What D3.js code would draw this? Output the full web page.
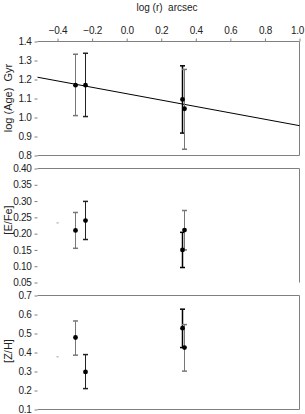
<!DOCTYPE html>
<html>
<head>
<meta charset="utf-8">
<script src="https://cdn.jsdelivr.net/npm/d3@7"></script>
<style>
   body { margin: 0; background: #fff; }
   svg { display: block; font-family: Arial, "Liberation Sans", sans-serif; }
   text { white-space: pre; }
</style>
</head>
<body>
<div id="chart"></div>
<script>
// radius of the four measurements (log r, arcsec)
var logR = [-0.30, -0.24, 0.32, 0.33];

// log age in Gyr with error bar ends
var logAge = [1.17, 1.17, 1.095, 1.046];
var logAgeHi = [1.333, 1.338, 1.272, 1.253];
var logAgeLo = [1.01, 1.005, 0.918, 0.833];

// straight line fitted through the ages (two end points)
var fitR = [-0.516, 1.0];
var fitAge = [1.212, 0.957];

// [E/Fe]
var eFe = [0.21, 0.24, 0.15, 0.211];
var eFeHi = [0.265, 0.299, 0.204, 0.271];
var eFeLo = [0.155, 0.182, 0.096, 0.15];

// [Z/H]
var zH = [0.479, 0.298, 0.528, 0.426];
var zHHi = [0.566, 0.389, 0.628, 0.547];
var zHLo = [0.386, 0.21, 0.426, 0.302];

// little stray dashes left of the points in the two lower panels
var strayR = -0.40;
var strayEFe = 0.233;
var strayZH = 0.377;

// tick labels
var xTicks = [-0.4, -0.2, 0.0, 0.2, 0.4, 0.6, 0.8, 1.0];
var ageTicks = [0.8, 0.9, 1.0, 1.1, 1.2, 1.3, 1.4];
var eFeTicks = [0.05, 0.10, 0.15, 0.20, 0.25, 0.30, 0.35, 0.40];
var zHTicks = [0.1, 0.2, 0.3, 0.4, 0.5, 0.6, 0.7];

var width = 305, height = 414;
var left = 37.5, right = 299.5;
var barColors = ["#777", "#222", "#000", "#777"];

var svg = d3.select("#chart").append("svg")
   .attr("width", width)
   .attr("height", height);

var x = d3.scaleLinear().domain([-0.516, 1.0]).range([left, right]);

// top axis with title
var xAxis = svg.append("g")
   .attr("transform", "translate(0,41.5)")
   .call(d3.axisTop(x).tickValues(xTicks).tickFormat(d3.format(".1f")).tickSize(3).tickPadding(5));
xAxis.select(".domain").remove();
xAxis.selectAll("line").attr("stroke", "#808080");
xAxis.selectAll("text").attr("font-size", 10).attr("fill", "#222").attr("letter-spacing", -0.3)
   .attr("font-family", "Arial, 'Liberation Sans', sans-serif");
// last label sits on the right edge, keep it inside the picture
xAxis.selectAll(".tick").filter(function (d) { return d == 1.0; })
   .select("text").attr("text-anchor", "end").attr("x", 4);

svg.append("text")
   .attr("x", 167).attr("y", 11)
   .attr("text-anchor", "middle")
   .attr("font-size", 10)
   .attr("fill", "#222")
   .text("log (r)  arcsec");

function make_panel(top, bottom, domain, ticks, fmt, label, labelY, drawBottom) {
   // one stacked panel: y axis, frame lines, returns its y scale
   var y = d3.scaleLinear().domain(domain).range([bottom, top]);

   var g = svg.append("g")
      .attr("transform", "translate(" + left + ",0)")
      .call(d3.axisLeft(y).tickValues(ticks).tickFormat(d3.format(fmt)).tickSize(3).tickPadding(3));
   g.select(".domain").remove();
   g.selectAll("line").attr("stroke", "#808080");
   g.selectAll("text").attr("font-size", 10).attr("fill", "#222").attr("letter-spacing", -0.3)
      .attr("font-family", "Arial, 'Liberation Sans', sans-serif");

   // frame: top and right always, bottom only for some panels
   svg.append("line").attr("x1", left).attr("x2", right).attr("y1", top).attr("y2", top).attr("stroke", "#808080");
   svg.append("line").attr("x1", right).attr("x2", right).attr("y1", top).attr("y2", bottom).attr("stroke", "#808080");
   if (drawBottom) {
      svg.append("line").attr("x1", left).attr("x2", right).attr("y1", bottom).attr("y2", bottom).attr("stroke", "#808080");
   }

   svg.append("text")
      .attr("transform", "translate(12," + labelY + ") rotate(-90)")
      .attr("text-anchor", "middle")
      .attr("font-size", 11)
      .attr("fill", "#222")
      .text(label);

   return y;
}

function draw_points(y, vals, hi, lo) {
   // error bars with caps and filled markers
   for (var i = 0; i < vals.length; i++) {
      var cx = Math.round(x(logR[i])) + 0.5;
      var col = barColors[i];
      var w = (i == 2) ? 1.5 : 1;
      svg.append("line").attr("x1", cx).attr("x2", cx).attr("y1", y(hi[i])).attr("y2", y(lo[i]))
         .attr("stroke", col).attr("stroke-width", w);
      svg.append("line").attr("x1", cx - 2.5).attr("x2", cx + 2.5).attr("y1", y(hi[i])).attr("y2", y(hi[i]))
         .attr("stroke", col).attr("stroke-width", 1.5);
      svg.append("line").attr("x1", cx - 2.5).attr("x2", cx + 2.5).attr("y1", y(lo[i])).attr("y2", y(lo[i]))
         .attr("stroke", col).attr("stroke-width", 1.5);
   }
   svg.selectAll(null)
      .data(vals)
      .enter().append("circle")
      .attr("cx", function (d, i) { return Math.round(x(logR[i])) + 0.5; })
      .attr("cy", function (d) { return y(d); })
      .attr("r", 2.4)
      .attr("fill", "#000");
}

function draw_stray(y, v) {
   svg.append("line")
      .attr("x1", x(strayR) - 1).attr("x2", x(strayR) + 1)
      .attr("y1", y(v)).attr("y2", y(v))
      .attr("stroke", "#999");
}

// panel 1: log age
var yAge = make_panel(41.5, 155.5, [0.8, 1.4], ageTicks, ".1f", "log (Age)  Gyr", 98, true);
svg.append("line")
   .attr("x1", x(fitR[0])).attr("y1", yAge(fitAge[0]))
   .attr("x2", x(fitR[1])).attr("y2", yAge(fitAge[1]))
   .attr("stroke", "#000")
   .attr("stroke-width", 1);
draw_points(yAge, logAge, logAgeHi, logAgeLo);

// panel 2: [E/Fe]
var yEFe = make_panel(168.5, 282.5, [0.05, 0.40], eFeTicks, ".2f", "[E/Fe]", 220, false);
draw_stray(yEFe, strayEFe);
draw_points(yEFe, eFe, eFeHi, eFeLo);

// panel 3: [Z/H]
var yZH = make_panel(295.5, 409.5, [0.1, 0.7], zHTicks, ".1f", "[Z/H]", 351, true);
draw_stray(yZH, strayZH);
draw_points(yZH, zH, zHHi, zHLo);
</script>
</body>
</html>
